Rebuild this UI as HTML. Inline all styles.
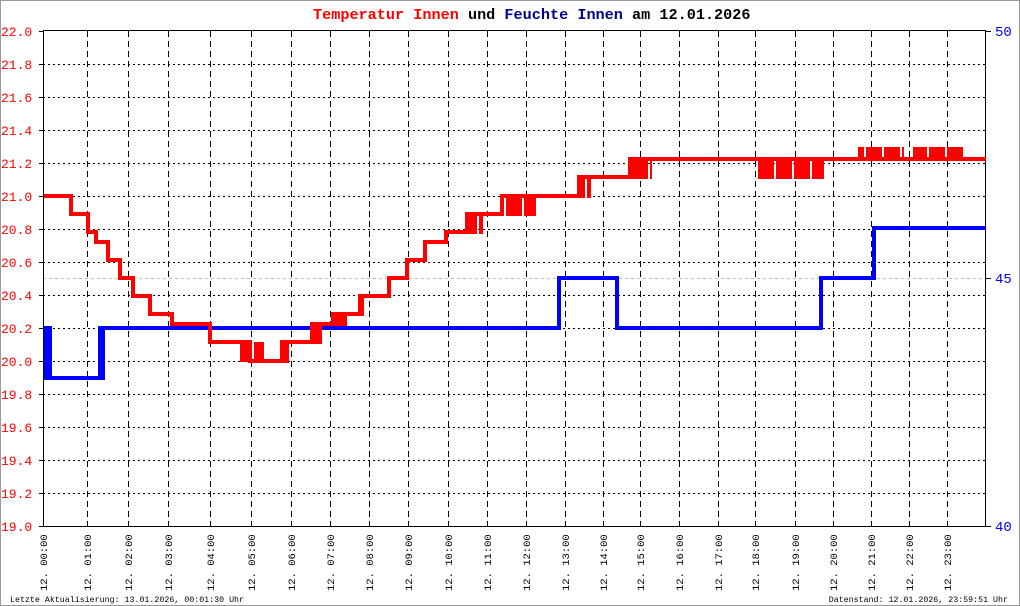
<!DOCTYPE html>
<html><head><meta charset="utf-8"><style>
html,body{margin:0;padding:0;background:#fff}
svg{display:block}
</style></head><body>
<svg id="s" width="1020" height="606" xmlns="http://www.w3.org/2000/svg" font-family="Liberation Mono, monospace"></svg>
<script>
const s=document.getElementById('s');let h='';
h+='<rect x="0.5" y="0.5" width="1019" height="605" fill="#fff" stroke="#999"/>';
const gx=[87,128,168,210,251,291,330,369,408,448,487,526,565,603,640,679,718,755,795,833,871,909,947];
const L=43,R=986,T=31,B=526;
for(let i=1;i<15;i++){const y=T+i*33;h+=`<line x1="${L}" y1="${y+.5}" x2="${R}" y2="${y+.5}" stroke="#000" stroke-dasharray="2,3"/>`;}
h+=`<line x1="${L}" y1="278.5" x2="${R}" y2="278.5" stroke="#bbb" stroke-dasharray="3,3"/>`;
for(const x of gx){h+=`<line x1="${x+.5}" y1="${T}" x2="${x+.5}" y2="${B+4}" stroke="#000" stroke-dasharray="6,4"/>`;}
h+=`<line x1="${L+.5}" y1="${T}" x2="${L+.5}" y2="${B+1}" stroke="#000"/>`;
h+=`<line x1="${R-.5}" y1="${T}" x2="${R-.5}" y2="${B+1}" stroke="#000"/>`;
h+=`<line x1="${L-4}" y1="${B+.5}" x2="${R}" y2="${B+.5}" stroke="#000"/>`;
h+=`<line x1="${L}" y1="${T-.5}" x2="${R}" y2="${T-.5}" stroke="#000"/>`;
for(let i=0;i<=15;i++){const y=T+i*33;const v=(22-i*0.2).toFixed(1);
h+=`<line x1="${L-4}" y1="${y+.5}" x2="${L}" y2="${y+.5}" stroke="#000"/>`;
h+=`<text x="1" y="${y+5}" font-size="13" fill="#f00">${v}</text>`;}
[[31,50],[278,45],[526,40]].forEach(([y,v])=>{h+=`<line x1="${R}" y1="${y+.5}" x2="${R+5}" y2="${y+.5}" stroke="#000"/>`;h+=`<text x="995" y="${y+5}" font-size="14" fill="#00f">${v}</text>`;});
const xl=[43].concat(gx);
xl.forEach((x,i)=>{const t='12. '+String(i).padStart(2,'0')+':00';h+=`<text transform="translate(${x+4},591) rotate(-90)" font-size="10.5" fill="#000">${t}</text>`;});
h+=`<text x="313" y="19" font-size="15.2" font-weight="bold"><tspan fill="#f00">Temperatur Innen</tspan> <tspan fill="#000">und</tspan> <tspan fill="#00008b">Feuchte Innen</tspan> <tspan fill="#000">am 12.01.2026</tspan></text>`;
h+=`<text x="10" y="602" font-size="8.3" fill="#000">Letzte Aktualisierung: 13.01.2026, 00:01:30 Uhr</text>`;
h+=`<text x="1008" y="602" font-size="8.3" fill="#000" text-anchor="end">Datenstand: 12.01.2026, 23:59:51 Uhr</text>`;
const bp=[[44,328],[47,328],[47,378],[102,378],[102,328],[559,328],[559,278],[617,278],[617,328],[821,328],[821,278],[874,278],[874,228],[986,228]];
h+=`<polyline points="${bp.map(p=>p.join(',')).join(' ')}" fill="none" stroke="#00f" stroke-width="4"/>`;
h+=`<rect x="44" y="326" width="8" height="54" fill="#00f"/><rect x="98" y="326" width="7" height="54" fill="#00f"/>`;
const rp=[[44,196],[71,196],[71,214],[88,214],[88,232],[96,232],[96,242],[108,242],[108,260],[120,260],[120,278],[133,278],[133,296],[150,296],[150,314],[172,314],[172,324],[210,324],[210,342],[250,342],[250,361],[287,361],[287,342],[312,342],[312,324],[333,324],[333,314],[360,314],[360,296],[389,296],[389,278],[407,278],[407,260],[425,260],[425,242],[446,242],[446,232],[467,232],[467,214],[502,214],[502,196],[579,196],[579,177],[630,177],[630,159],[986,159]];
h+=`<polyline points="${rp.map(p=>p.join(',')).join(' ')}" fill="none" stroke="#f00" stroke-width="4"/>`;
const noise=[[240,262,342,362],[280,288,340,362],[310,320,322,344],[333,346,312,326],[358,362,294,316],[467,481,212,234],[502,534,194,216],[579,590,175,198],[628,650,157,179],[756,822,157,179],[858,903,147,161],[913,962,147,161]];
noise.forEach(([a,b,y1,y2])=>{for(let x=a;x<=b;x+=2){if((x*7)%9==0)continue;h+=`<rect x="${x}" y="${y1}" width="2" height="${y2-y1}" fill="#f00"/>`;}});
s.innerHTML=h;
</script>
</body></html>
